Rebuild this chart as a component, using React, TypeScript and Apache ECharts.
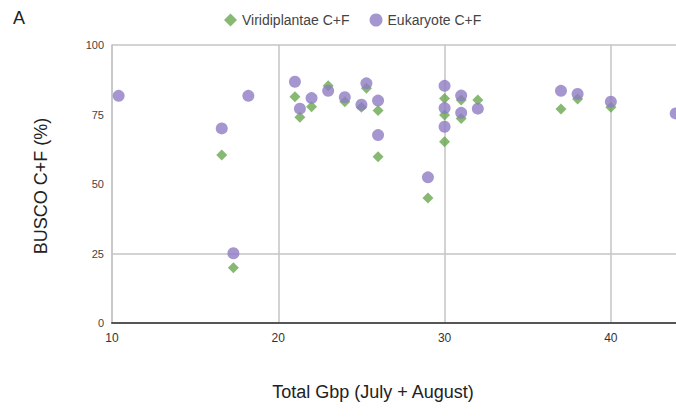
import React, { useEffect, useRef } from "react";
import * as echarts from "echarts";

const FONT = "'Liberation Sans', Arial, Helvetica, sans-serif";

const seriesNames = ["Viridiplantae C+F", "Eukaryote C+F"];
const yTicks = [0, 25, 50, 75, 100];
const xTicks = [10, 20, 30, 40];

// Viridiplantae points (Total Gbp, BUSCO C+F %) visible in the figure
const viridiX = [16.6, 17.3, 21.0, 21.3, 22.0, 23.0, 24.0, 25.0, 25.3, 26.0, 26.0, 29.0, 30.0, 30.0, 30.0, 31.0, 31.0, 32.0, 37.0, 38.0, 40.0];
const viridiY = [60.4, 19.9, 81.4, 74.0, 77.8, 85.3, 79.6, 77.6, 84.4, 76.4, 59.8, 45.0, 80.8, 74.8, 65.2, 80.2, 73.6, 80.2, 77.0, 80.6, 77.6];

// Eukaryote points
const eukX = [10.4, 16.6, 17.3, 18.2, 21.0, 21.3, 22.0, 23.0, 24.0, 25.0, 25.3, 26.0, 26.0, 29.0, 30.0, 30.0, 30.0, 31.0, 31.0, 32.0, 37.0, 38.0, 40.0, 43.9];
const eukY = [81.7, 70.0, 25.1, 81.7, 86.8, 77.1, 80.9, 83.5, 81.2, 78.5, 86.2, 80.0, 67.6, 52.4, 85.3, 77.3, 70.6, 81.8, 75.6, 77.1, 83.5, 82.4, 79.6, 75.4];

const gridLevels = [25, 100];

export default function App() {
  const ref = useRef<HTMLDivElement>(null);
  useEffect(() => {
    document.body.style.margin = "0";
    document.body.style.overflow = "hidden";
    const chart = echarts.init(ref.current!, null, { renderer: "svg" });
    const green = "#6aa84f";
    const purple = "#8e7cc3";
    chart.setOption({
      animation: false,
      backgroundColor: "#ffffff",
      textStyle: { fontFamily: FONT },
      legend: {
        top: 8,
        left: 219,
        itemWidth: 13,
        itemHeight: 13,
        itemGap: 20,
        textStyle: { fontSize: 14, color: "#444", fontFamily: FONT },
        data: [
          { name: seriesNames[0], icon: "diamond" },
          { name: seriesNames[1], icon: "circle" },
        ],
      },
      grid: { left: 112, top: 45, bottom: 94, right: 6 },
      xAxis: {
        type: "value",
        min: 10,
        max: 45,
        interval: 10,
        axisLine: { show: true, lineStyle: { color: "#555", width: 2 } },
        axisTick: { show: false },
        axisLabel: {
          fontSize: 12,
          color: "#333",
          margin: 9,
          fontFamily: FONT,
          formatter: (v: number) => (xTicks.includes(v) ? String(v) : ""),
        },
        splitLine: { show: true, lineStyle: { color: "#c4c4c4", width: 1.5 } },
      },
      yAxis: {
        type: "value",
        min: 0,
        max: 100,
        interval: 25,
        axisLine: { show: true, lineStyle: { color: "#c4c4c4", width: 1.5 } },
        axisTick: { show: false },
        axisLabel: {
          fontSize: 11,
          color: "#444",
          margin: 8,
          fontFamily: FONT,
          formatter: (v: number) => (yTicks.includes(v) ? String(v) : ""),
        },
        splitLine: { show: false },
      },
      graphic: [
        {
          type: "text",
          left: 13,
          top: 9,
          style: { text: "A", fontSize: 18, fill: "#222", fontFamily: FONT },
        },
        {
          type: "text",
          x: 373,
          y: 392,
          style: {
            text: "Total Gbp (July + August)",
            fontSize: 18,
            fill: "#222",
            fontFamily: FONT,
            align: "center",
            verticalAlign: "middle",
          },
        },
        {
          type: "text",
          x: 41,
          y: 186,
          rotation: Math.PI / 2,
          style: {
            text: "BUSCO C+F (%)",
            fontSize: 18,
            fill: "#222",
            fontFamily: FONT,
            align: "center",
            verticalAlign: "middle",
          },
        },
      ],
      series: [
        {
          name: seriesNames[0],
          type: "scatter",
          symbol: "diamond",
          symbolSize: 11,
          itemStyle: { color: green },
          data: viridiX.map((x, i) => [x, viridiY[i]]),
          markLine: {
            silent: true,
            z: 1,
            symbol: "none",
            label: { show: false },
            lineStyle: { color: "#c4c4c4", width: 1.5, type: "solid" },
            data: gridLevels.map((v) => ({ yAxis: v })),
          },
        },
        {
          name: seriesNames[1],
          type: "scatter",
          symbol: "circle",
          symbolSize: 12,
          itemStyle: { color: purple },
          data: eukX.map((x, i) => [x, eukY[i]]),
        },
      ],
    });
    return () => chart.dispose();
  }, []);
  return <div ref={ref} style={{ width: 700, height: 417 }} />;
}
